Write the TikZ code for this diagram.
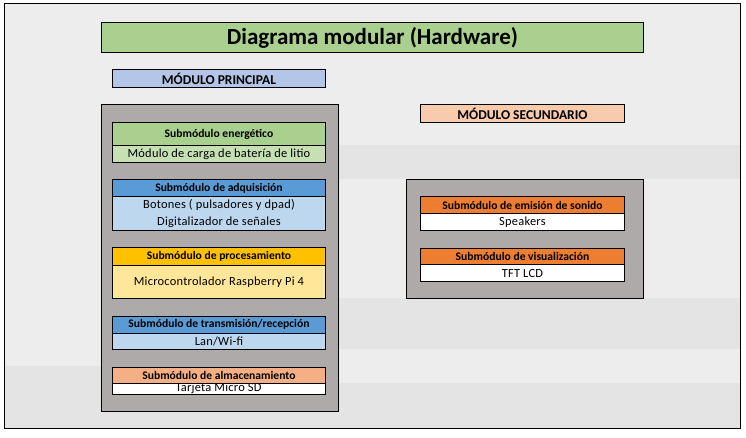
\documentclass[tikz,border=0pt]{standalone}
\usepackage{fontspec}
\setmainfont{Carlito}
\newfontfamily\ancha[LetterSpace=2]{Carlito}
\definecolor{fondo}{HTML}{EDEDED}
\definecolor{banda}{HTML}{E4E4E4}
\definecolor{gris}{HTML}{AEAAAA}
\definecolor{verde}{HTML}{A9D08E}
\definecolor{verdeclaro}{HTML}{C6E0B4}
\definecolor{azul}{HTML}{5B9BD5}
\definecolor{azulclaro}{HTML}{BDD7EE}
\definecolor{lila}{HTML}{B4C6E7}
\definecolor{oro}{HTML}{FFC000}
\definecolor{oroclaro}{HTML}{FFE699}
\definecolor{salmon}{HTML}{F4B084}
\definecolor{durazno}{HTML}{F8CBAD}
\definecolor{naranja}{HTML}{ED7D31}
\begin{document}
\begin{tikzpicture}[x=1pt, y=-1pt,
  caja/.style={draw, line width=0.9pt, inner sep=0pt, anchor=north west},
  cabeza/.style={caja, font=\fontsize{11.6}{13}\selectfont\bfseries},
  cuerpo/.style={caja, font=\ancha\fontsize{12.4}{17}\selectfont, align=center}]
\useasboundingbox (0,0) rectangle (746,438);
% fondo de hoja
\fill[fondo] (4,4) rectangle (740,428);
\fill[banda] (338,145) rectangle (740,179);
\fill[banda] (338,298) rectangle (740,349);
\fill[banda] (4,366) rectangle (101,428);
\fill[banda] (101,383) rectangle (740,428);
\draw[line width=1pt] (4,4) rectangle (740,428);
% titulos
\node[caja, fill=verde, minimum width=542pt, minimum height=30pt, font=\fontsize{23}{26}\selectfont\bfseries] (titulo) at (101,22){Diagrama modular (Hardware)};
\node[caja, fill=lila, minimum width=213pt, minimum height=18pt, font=\fontsize{13.5}{15}\selectfont\bfseries] (mprin) at (112,69){MÓDULO PRINCIPAL};
\node[caja, fill=durazno, minimum width=204pt, minimum height=18pt, font=\fontsize{13.5}{15}\selectfont\bfseries] (msec) at (420,104){MÓDULO SECUNDARIO};
% modulo principal
\node[caja, fill=gris, minimum width=237pt, minimum height=307pt] (cprin) at (101,104){};
\node[cabeza, fill=verde, minimum width=213pt, minimum height=23pt] (energ) at (112,122){Submódulo energético};
\node[cuerpo, fill=verdeclaro, minimum width=213pt, minimum height=17pt] (energb) at (112,145){Módulo de carga de batería de litio};
\node[cabeza, fill=azul, minimum width=213pt, minimum height=17.5pt] (adq) at (112,179){Submódulo de adquisición};
\node[cuerpo, fill=azulclaro, minimum width=213pt, minimum height=33.5pt] (adqb) at (112,196.5){Botones ( pulsadores y dpad)\\Digitalizador de señales};
\node[cabeza, fill=oro, minimum width=213pt, minimum height=17.7pt] (proc) at (112,247){Submódulo de procesamiento};
\node[cuerpo, fill=oroclaro, minimum width=213pt, minimum height=33.3pt] (procb) at (112,264.7){Microcontrolador Raspberry Pi 4};
\node[cabeza, fill=azul, minimum width=213pt, minimum height=17.2pt] (trans) at (112,315.5){Submódulo de transmisión/recepción};
\node[cuerpo, fill=azulclaro, minimum width=213pt, minimum height=16.6pt] (transb) at (112,332.7){Lan/Wi-fi};
\node[cuerpo, fill=white, minimum width=213pt, minimum height=11pt] (almb) at (112,383.3){};
\node[anchor=base, inner sep=0pt, font=\ancha\fontsize{12.4}{14}\selectfont] (almt) at (218.5,391.5){Tarjeta Micro SD};
\node[cabeza, fill=salmon, minimum width=213pt, minimum height=16.6pt] (alm) at (112,366.7){Submódulo de almacenamiento};
% modulo secundario
\node[caja, fill=gris, minimum width=237pt, minimum height=119pt] (csec) at (406,179){};
\node[cabeza, fill=naranja, minimum width=204pt, minimum height=17pt] (son) at (420,196.3){Submódulo de emisión de sonido};
\node[cuerpo, fill=white, minimum width=204pt, minimum height=17pt] (sonb) at (420,213.3){Speakers};
\node[cabeza, fill=naranja, minimum width=204pt, minimum height=16.6pt] (vis) at (420,247.7){Submódulo de visualización};
\node[cuerpo, fill=white, minimum width=204pt, minimum height=16.7pt] (visb) at (420,264.3){TFT LCD};
\end{tikzpicture}
\end{document}
